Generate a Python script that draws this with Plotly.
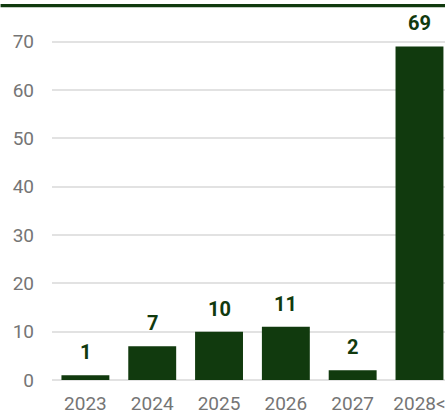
import plotly.graph_objects as go

categories = ["2023", "2024", "2025", "2026", "2027", "2028<"]
values = [1, 7, 10, 11, 2, 69]
y_ticks = [0, 10, 20, 30, 40, 50, 60, 70]

GREEN = "#113a0e"
W, H = 445, 412
ML, MT, MB = 51.5, 10, 31.5
step = 66.9
x_max = -0.5 + (W - ML) / step
ppu = 4.84
y_max = (H - MB - MT) / ppu

fig = go.Figure(go.Bar(
    x=categories, y=values, marker_color=GREEN, marker_line_width=0,
    hoverinfo="skip",
))

for i, v in enumerate(values):
    fig.add_annotation(x=i, y=v, xref="x", yref="y", text=f"<b>{v}</b>",
                       showarrow=False, yanchor="bottom", yshift=9,
                       font=dict(family="Roboto", size=20, color=GREEN))

fig.add_shape(type="line", xref="paper", yref="paper",
              x0=-ML / (W - ML), x1=1.0, y0=1 + (MT - 5.6) / (H - MT - MB),
              y1=1 + (MT - 5.6) / (H - MT - MB),
              line=dict(color=GREEN, width=3.4))

fig.update_layout(
    width=W, height=H,
    margin=dict(l=ML, r=0, t=MT, b=MB, pad=0, autoexpand=False),
    paper_bgcolor="white", plot_bgcolor="white",
    bargap=0.283, showlegend=False,
    font=dict(family="Roboto", size=19, color="#757575"),
    xaxis=dict(type="category", range=[-0.5, x_max], showgrid=False,
               showline=False, zeroline=False, ticks="", ticklabelstandoff=10,
               automargin=False,
               tickfont=dict(size=19, color="#757575"), fixedrange=True),
    yaxis=dict(range=[0, y_max], tickvals=y_ticks, showgrid=True,
               gridcolor="#e2e2e2", gridwidth=1.5, zeroline=True,
               zerolinecolor="#e2e2e2", zerolinewidth=1.5, showline=False,
               ticks="", ticklabelstandoff=17, automargin=False,
               tickfont=dict(size=19, color="#757575"), fixedrange=True),
)

fig.write_html("out.html", config={"displayModeBar": False},
               post_script="document.body.style.margin='0';"
                           "document.body.style.overflow='hidden';")
